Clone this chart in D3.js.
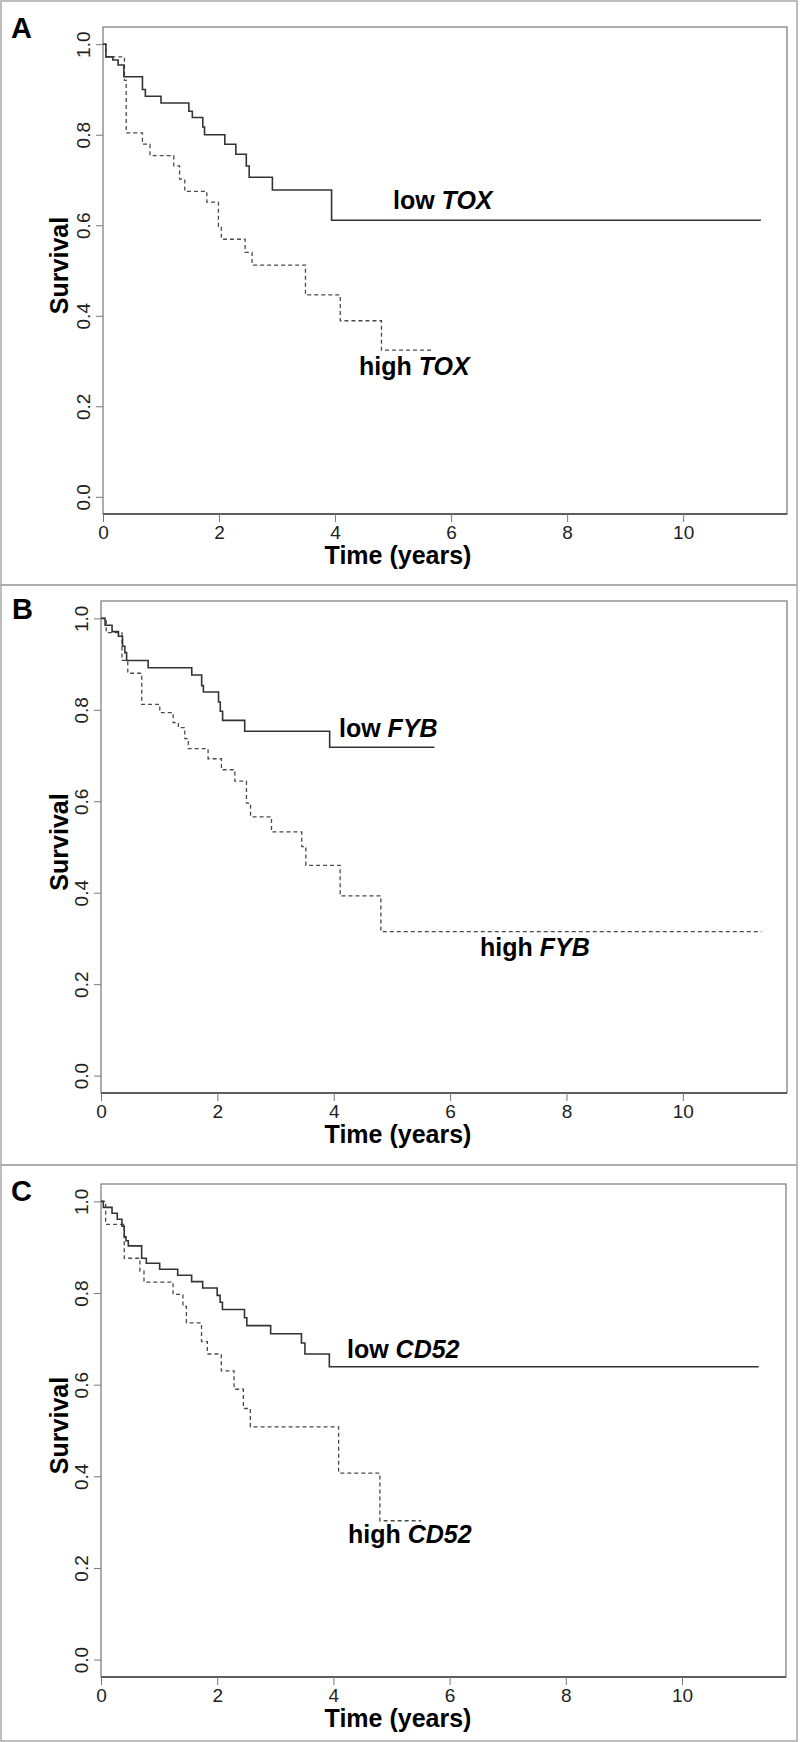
<!DOCTYPE html>
<html>
<head>
<meta charset="utf-8">
<script src="https://cdn.jsdelivr.net/npm/d3@7"></script>
<style>
  body { margin: 0; background: #fff; }
  text { font-family: "Liberation Sans", Arial, Helvetica, sans-serif; }
</style>
</head>
<body>
<svg id="fig" width="800" height="1742"></svg>
<script>
// --- data (Kaplan-Meier steps: time in years, survival after the drop)
const toxLowTime  = [0, 0.05, 0.17, 0.26, 0.36, 0.68, 0.73, 1.00, 1.48, 1.54, 1.72, 1.75, 2.10, 2.29, 2.47, 2.52, 2.92, 3.94, 11.34]
const toxLowSurv  = [1, 0.972, 0.965, 0.954, 0.928, 0.900, 0.885, 0.870, 0.852, 0.838, 0.817, 0.800, 0.779, 0.757, 0.731, 0.706, 0.678, 0.611, 0.611]
const toxHighTime = [0, 0.05, 0.37, 0.40, 0.68, 0.81, 1.22, 1.32, 1.41, 1.79, 1.99, 2.04, 2.45, 2.57, 3.49, 4.09, 4.80, 5.69]
const toxHighSurv = [1, 0.972, 0.920, 0.804, 0.779, 0.754, 0.731, 0.702, 0.675, 0.651, 0.597, 0.569, 0.540, 0.512, 0.446, 0.389, 0.324, 0.324]

const fybLowTime  = [0, 0.07, 0.19, 0.30, 0.37, 0.41, 0.44, 0.81, 1.56, 1.73, 1.76, 2.02, 2.05, 2.09, 2.47, 3.93, 5.73]
const fybLowSurv  = [1, 0.985, 0.971, 0.961, 0.939, 0.925, 0.908, 0.892, 0.876, 0.853, 0.839, 0.817, 0.797, 0.777, 0.753, 0.718, 0.718]
const fybHighTime = [0, 0.09, 0.36, 0.46, 0.70, 1.01, 1.24, 1.33, 1.44, 1.50, 1.84, 2.07, 2.30, 2.50, 2.57, 2.93, 3.45, 3.52, 4.11, 4.81, 11.35]
const fybHighSurv = [1, 0.969, 0.908, 0.880, 0.812, 0.794, 0.772, 0.761, 0.737, 0.715, 0.693, 0.669, 0.644, 0.596, 0.566, 0.533, 0.501, 0.460, 0.393, 0.315, 0.315]

const cd52LowTime  = [0, 0.04, 0.19, 0.28, 0.36, 0.40, 0.43, 0.47, 0.70, 0.78, 1.01, 1.32, 1.56, 1.75, 2.00, 2.05, 2.09, 2.47, 2.51, 2.92, 3.45, 3.51, 3.93, 11.32]
const cd52LowSurv  = [1, 0.987, 0.974, 0.961, 0.946, 0.923, 0.914, 0.903, 0.876, 0.865, 0.852, 0.839, 0.825, 0.811, 0.795, 0.780, 0.764, 0.746, 0.729, 0.711, 0.691, 0.667, 0.639, 0.639]
const cd52HighTime = [0, 0.08, 0.40, 0.67, 0.74, 1.24, 1.41, 1.47, 1.73, 1.83, 2.07, 2.29, 2.45, 2.57, 4.09, 4.80, 5.51]
const cd52HighSurv = [1, 0.950, 0.876, 0.848, 0.824, 0.797, 0.771, 0.735, 0.694, 0.667, 0.630, 0.590, 0.548, 0.508, 0.407, 0.303, 0.303]

const xTicks = [0, 2, 4, 6, 8, 10]
const yTicks = [0, 0.2, 0.4, 0.6, 0.8, 1.0]
const xDomain = [0, 11.79]
const yDomain = [-0.038, 1.038]

// layout of the three panels
const panels = [
    { letter: 'A', gene: 'TOX', frame: [1, 1, 796, 584], box: { left: 103, right: 787, top: 27, bottom: 514 },
      low: [toxLowTime, toxLowSurv], high: [toxHighTime, toxHighSurv],
      lowAt: [393, 209], highAt: [359, 375], letterAt: [11, 38] },
    { letter: 'B', gene: 'FYB', frame: [1, 585, 796, 580], box: { left: 101, right: 787, top: 601, bottom: 1093 },
      low: [fybLowTime, fybLowSurv], high: [fybHighTime, fybHighSurv],
      lowAt: [339, 737], highAt: [480, 956], letterAt: [12, 619] },
    { letter: 'C', gene: 'CD52', frame: [1, 1165, 796, 576], box: { left: 101, right: 786, top: 1184, bottom: 1677 },
      low: [cd52LowTime, cd52LowSurv], high: [cd52HighTime, cd52HighSurv],
      lowAt: [347, 1358], highAt: [348, 1543], letterAt: [11, 1201] }
]

const svg = d3.select('#fig')

panels.forEach(p => {
    const b = p.box
    const x = d3.scaleLinear().domain(xDomain).range([b.left, b.right])
    const y = d3.scaleLinear().domain(yDomain).range([b.bottom, b.top])

    const g = svg.append('g').attr('class', 'panel')

    // panel frame
    g.append('rect')
        .attr('x', p.frame[0]).attr('y', p.frame[1])
        .attr('width', p.frame[2]).attr('height', p.frame[3])
        .attr('fill', 'none').attr('stroke', '#a8a8a8').attr('stroke-width', 1.5)

    // plot box
    g.append('rect')
        .attr('x', b.left).attr('y', b.top)
        .attr('width', b.right - b.left).attr('height', b.bottom - b.top)
        .attr('fill', 'none').attr('stroke', '#777').attr('stroke-width', 1.2)
    g.append('line')
        .attr('x1', b.left).attr('x2', b.right)
        .attr('y1', b.bottom).attr('y2', b.bottom)
        .attr('stroke', '#444').attr('stroke-width', 1.4)

    // x axis
    const xAxis = g.append('g')
        .attr('transform', `translate(0,${b.bottom})`)
        .call(d3.axisBottom(x).tickValues(xTicks).tickSize(8).tickPadding(4).tickFormat(d3.format('d')))
    xAxis.select('.domain').remove()
    xAxis.selectAll('line').attr('stroke', '#777')
    xAxis.selectAll('text').attr('font-size', 19).attr('fill', '#222')
        .style('font-family', '"Liberation Sans", Arial, sans-serif')

    // y axis, labels turned like R's default
    const yAxis = g.append('g')
        .attr('transform', `translate(${b.left},0)`)
        .call(d3.axisLeft(y).tickValues(yTicks).tickSize(7).tickFormat(d3.format('.1f')))
    yAxis.select('.domain').remove()
    yAxis.selectAll('line').attr('stroke', '#777')
    yAxis.selectAll('text')
        .attr('x', null).attr('dy', null)
        .attr('text-anchor', 'middle')
        .attr('transform', 'translate(-13,0) rotate(-90)')
        .attr('font-size', 19).attr('fill', '#222')
        .style('font-family', '"Liberation Sans", Arial, sans-serif')

    // axis titles
    g.append('text')
        .attr('x', 398).attr('y', b.bottom + 50)
        .attr('text-anchor', 'middle')
        .attr('font-size', 25).attr('font-weight', 'bold')
        .text('Time (years)')
    g.append('text')
        .attr('transform', `translate(68,${(b.top + b.bottom) / 2 - 5}) rotate(-90)`)
        .attr('text-anchor', 'middle')
        .attr('font-size', 25).attr('font-weight', 'bold')
        .text('Survival')

    // panel letter
    g.append('text')
        .attr('x', p.letterAt[0]).attr('y', p.letterAt[1])
        .attr('font-size', 29).attr('font-weight', 'bold')
        .text(p.letter)

    // survival curves
    const step = d3.line()
        .x(d => x(d[0]))
        .y(d => y(d[1]))
        .curve(d3.curveStepAfter)

    const curves = [
        { times: p.high[0], surv: p.high[1], dash: '4,3', color: '#4a4a4a', width: 1.3 },
        { times: p.low[0], surv: p.low[1], dash: null, color: '#333', width: 1.6 }
    ]

    curves.forEach(c => {
        g.append('path')
            .datum(c.times.map((t, i) => [t, c.surv[i]]))
            .attr('d', step)
            .attr('fill', 'none')
            .attr('stroke', c.color)
            .attr('stroke-width', c.width)
            .attr('stroke-dasharray', c.dash)
    })

    // group labels
    const labels = [['low ', p.lowAt], ['high ', p.highAt]]
    labels.forEach(l => {
        const t = g.append('text')
            .attr('x', l[1][0]).attr('y', l[1][1])
            .attr('font-size', 25).attr('font-weight', 'bold')
        t.append('tspan').text(l[0])
        t.append('tspan').attr('font-style', 'italic').text(p.gene)
    })
})
</script>
</body>
</html>
